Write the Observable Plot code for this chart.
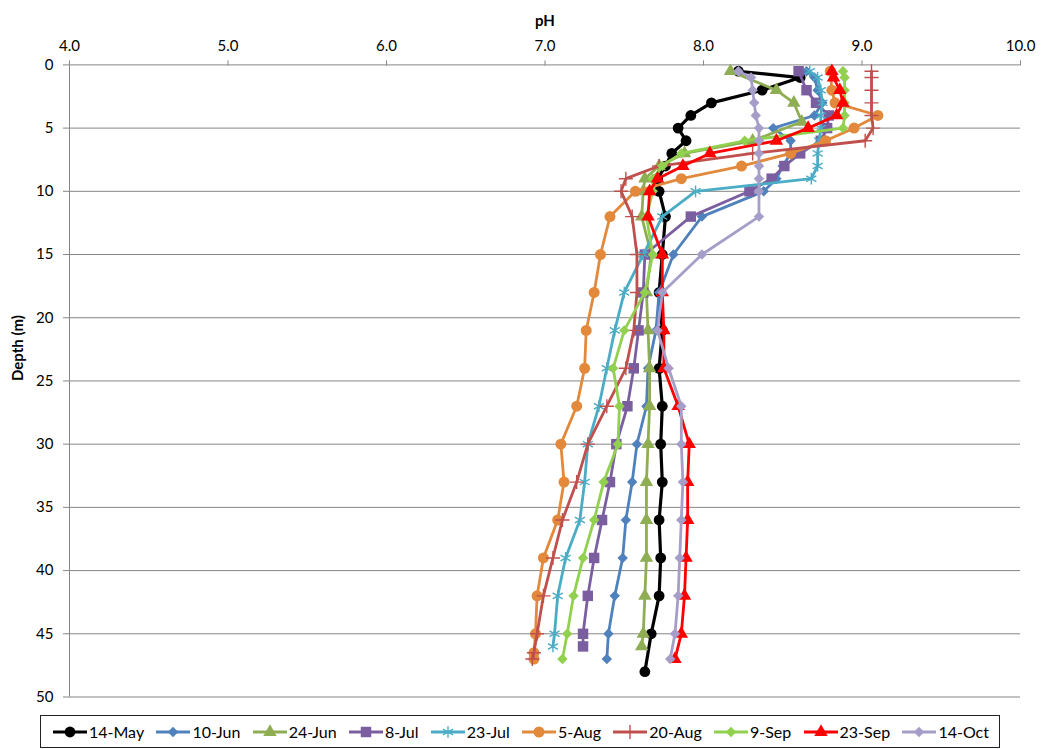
<!DOCTYPE html>
<html>
<head>
<meta charset="utf-8">
<script src="https://cdn.jsdelivr.net/npm/d3@7"></script>
<script src="https://cdn.jsdelivr.net/npm/@observablehq/plot@0.6"></script>
<style>
  html, body { margin: 0; padding: 0; background: #fff; }
  body { width: 1042px; height: 749px; position: relative; font-family: Lato, "Open Sans", sans-serif; }
  #chart { position: absolute; left: 0; top: 0; }
  #legend {
    position: absolute; left: 40px; top: 715px;
    border: 1px solid #222;
    display: flex; align-items: center; justify-content: space-between;
    padding: 0 10px 0 12px; box-sizing: border-box; width: 960px; height: 33px;
    font-size: 16px; color: #000;
  }
  .item { display: flex; align-items: center; white-space: nowrap; }
  .item svg { margin-right: 2px; }
</style>
</head>
<body>
<div id="chart"></div>
<div id="legend"></div>
<script>
// ---- tick labels ----
const xTicks = [4, 5, 6, 7, 8, 9, 10];
const yTicks = [0, 5, 10, 15, 20, 25, 30, 35, 40, 45, 50];

// ---- series names ----
const seriesNames = ["14-May", "10-Jun", "24-Jun", "8-Jul", "23-Jul", "5-Aug", "20-Aug", "9-Sep", "23-Sep", "14-Oct"];

// ---- depths (m) and pH per series ----
const may14Depth = [0.5, 1, 2, 3, 4, 5, 6, 7, 8, 9, 10, 12, 15, 18, 21, 24, 27, 30, 33, 36, 39, 42, 45, 48];
const may14PH    = [8.22, 8.61, 8.37, 8.05, 7.92, 7.84, 7.89, 7.80, 7.76, 7.71, 7.72, 7.76, 7.74, 7.72, 7.74, 7.72, 7.74, 7.73, 7.74, 7.72, 7.73, 7.72, 7.67, 7.63];

const jun10Depth = [0.5, 1, 2, 3, 4, 5, 6, 7, 8, 9, 10, 12, 15, 18, 21, 24, 27, 30, 33, 36, 39, 42, 45, 47];
const jun10PH    = [8.65, 8.70, 8.72, 8.75, 8.70, 8.44, 8.55, 8.55, 8.50, 8.46, 8.38, 7.99, 7.81, 7.72, 7.70, 7.65, 7.64, 7.58, 7.55, 7.51, 7.49, 7.44, 7.40, 7.39];

const jun24Depth = [0.5, 2, 3, 4.5, 6, 7, 8, 9, 10, 12, 15, 18, 21, 24, 27, 30, 33, 36, 39, 42, 45, 46];
const jun24PH    = [8.17, 8.46, 8.57, 8.62, 8.31, 7.88, 7.72, 7.63, 7.62, 7.61, 7.67, 7.64, 7.65, 7.66, 7.66, 7.65, 7.64, 7.64, 7.64, 7.63, 7.62, 7.61];

const jul8Depth = [0.5, 2, 3, 4, 5, 6, 7, 8, 9, 10, 12, 15, 18, 21, 24, 27, 30, 33, 36, 39, 42, 45, 46];
const jul8PH    = [8.60, 8.65, 8.71, 8.79, 8.78, 8.74, 8.61, 8.51, 8.43, 8.29, 7.92, 7.63, 7.62, 7.59, 7.56, 7.52, 7.45, 7.41, 7.36, 7.31, 7.27, 7.24, 7.24];

const jul23Depth = [0.5, 1, 2, 3, 4, 5, 6, 7, 8, 9, 10, 12, 15, 18, 21, 24, 27, 30, 33, 36, 39, 42, 45, 46];
const jul23PH    = [8.67, 8.72, 8.74, 8.75, 8.74, 8.74, 8.73, 8.72, 8.72, 8.68, 7.95, 7.74, 7.62, 7.50, 7.44, 7.39, 7.34, 7.27, 7.25, 7.22, 7.13, 7.08, 7.06, 7.05];

const aug5Depth = [0.5, 2, 3, 4, 5, 6, 7, 8, 9, 10, 12, 15, 18, 21, 24, 27, 30, 33, 36, 39, 42, 45, 46.5, 47];
const aug5PH    = [8.80, 8.81, 8.83, 9.10, 8.95, 8.77, 8.55, 8.24, 7.86, 7.57, 7.41, 7.35, 7.31, 7.26, 7.25, 7.20, 7.10, 7.12, 7.08, 6.99, 6.95, 6.94, 6.93, 6.93];

const aug20Depth = [0.5, 1, 2, 3, 4, 5, 6, 7, 8, 9, 10, 12, 15, 18, 21, 24, 27, 30, 33, 36, 39, 42, 45, 46.5, 47];
const aug20PH    = [9.06, 9.06, 9.06, 9.06, 9.06, 9.07, 9.02, 8.31, 7.72, 7.51, 7.48, 7.55, 7.58, 7.58, 7.56, 7.51, 7.39, 7.27, 7.20, 7.11, 7.05, 6.99, 6.95, 6.93, 6.92];

const sep9Depth = [0.5, 1, 2, 3, 4, 5, 6, 7, 8, 9, 10, 12, 15, 18, 21, 24, 27, 30, 33, 36, 39, 42, 45, 47];
const sep9PH    = [8.88, 8.89, 8.89, 8.89, 8.89, 8.88, 8.26, 7.86, 7.74, 7.68, 7.68, 7.64, 7.68, 7.63, 7.50, 7.43, 7.47, 7.46, 7.37, 7.31, 7.24, 7.18, 7.14, 7.11];

const sep23Depth = [0.5, 1, 2, 3, 4, 5, 6, 7, 8, 9, 10, 12, 15, 18, 21, 24, 27, 30, 33, 36, 39, 42, 45, 47];
const sep23PH    = [8.81, 8.82, 8.86, 8.88, 8.84, 8.66, 8.46, 8.04, 7.87, 7.71, 7.66, 7.65, 7.74, 7.74, 7.75, 7.75, 7.84, 7.91, 7.90, 7.90, 7.89, 7.88, 7.86, 7.82];

const oct14Depth = [0.5, 1, 2, 3, 4, 5, 6, 7, 8, 9, 10, 12, 15, 18, 21, 24, 27, 30, 33, 36, 39, 42, 45, 47];
const oct14PH    = [8.22, 8.30, 8.31, 8.32, 8.33, 8.35, 8.35, 8.35, 8.35, 8.35, 8.35, 8.35, 7.99, 7.74, 7.71, 7.78, 7.86, 7.86, 7.87, 7.86, 7.85, 7.84, 7.82, 7.79];

const depthLists = [may14Depth, jun10Depth, jun24Depth, jul8Depth, jul23Depth, aug5Depth, aug20Depth, sep9Depth, sep23Depth, oct14Depth];
const phLists = [may14PH, jun10PH, jun24PH, jul8PH, jul23PH, aug5PH, aug20PH, sep9PH, sep23PH, oct14PH];

// ---- styles ----
const colors = ["#000000", "#4F81BD", "#8FAE53", "#7B5EA0", "#4BACC6", "#E2893B", "#C0504D", "#92D050", "#FF0000", "#A69EC9"];
const symbols = ["circle", "diamond2", "triangle", "square", "asterisk", "circle", "plus", "diamond2", "triangle", "diamond2"];
const sizes = [5.4, 4.7, 5, 5.9, 5.5, 5.5, 4.6, 4.7, 5, 4.7];
const strokeSymbols = new Set(["asterisk", "plus"]);

const series = seriesNames.map((name, i) => ({
  name, color: colors[i], symbol: symbols[i], r: sizes[i],
  rows: depthLists[i].map((d, j) => ({depth: d, ph: phLists[i][j]}))
}));

const marks = [
  Plot.gridY(yTicks, {stroke: "#868686", strokeOpacity: 1, strokeWidth: 1}),
  Plot.ruleX([4], {stroke: "#868686", strokeWidth: 1}),
  Plot.axisX(xTicks, {anchor: "top", tickFormat: d => d.toFixed(1), tickSize: 5, tickPadding: 9, stroke: "#868686", fill: "#000", label: null, fontSize: 15}),
  Plot.axisY(yTicks, {anchor: "left", tickSize: 6, tickPadding: 10, stroke: "#868686", fill: "#000", label: null, fontSize: 15})
];

for (const s of series) {
  marks.push(Plot.line(s.rows, {x: "ph", y: "depth", stroke: s.color, strokeWidth: s.name === "14-May" ? 3.2 : 2.8, strokeLinejoin: "round"}));
  if (strokeSymbols.has(s.symbol)) {
    marks.push(Plot.dot(s.rows, {x: "ph", y: "depth", symbol: s.symbol, r: s.r, stroke: s.color, strokeWidth: 1.4, fill: "none"}));
  } else {
    marks.push(Plot.dot(s.rows, {x: "ph", y: "depth", symbol: s.symbol, r: s.r, fill: s.color, stroke: "none"}));
  }
}

marks.push(Plot.text(["pH"], {frameAnchor: "top", dy: -50, fontWeight: "bold", fontSize: 15, fill: "#000"}));
marks.push(Plot.text(["Depth (m)"], {frameAnchor: "left", dx: -51, rotate: -90, fontWeight: "bold", fontSize: 15, fill: "#000"}));

const chart = Plot.plot({
  width: 1042,
  height: 705,
  marginTop: 64.4,
  marginLeft: 69,
  marginRight: 22,
  marginBottom: 8.5,
  x: {domain: [4, 10]},
  y: {domain: [0, 50], reverse: true},
  style: {fontFamily: "Lato, 'Open Sans', sans-serif", fontSize: "15px", color: "#000", background: "transparent", overflow: "visible"},
  marks
});
document.getElementById("chart").appendChild(chart);

// ---- legend ----
const legend = d3.select("#legend");
const symMap = {circle: d3.symbolCircle, diamond2: d3.symbolDiamond2, triangle: d3.symbolTriangle, square: d3.symbolSquare, asterisk: d3.symbolAsterisk, plus: d3.symbolPlus};
for (const s of series) {
  const item = legend.append("div").attr("class", "item");
  const svg = item.append("svg").attr("width", 34).attr("height", 16);
  svg.append("line").attr("x1", 0).attr("x2", 34).attr("y1", 8).attr("y2", 8)
    .attr("stroke", s.color).attr("stroke-width", 3);
  const path = d3.symbol(symMap[s.symbol], Math.PI * s.r * s.r)();
  const p = svg.append("path").attr("d", path).attr("transform", "translate(17,8)");
  if (strokeSymbols.has(s.symbol)) p.attr("fill", "none").attr("stroke", s.color).attr("stroke-width", 1.4);
  else p.attr("fill", s.color);
  item.append("span").text(s.name);
}
</script>
</body>
</html>
